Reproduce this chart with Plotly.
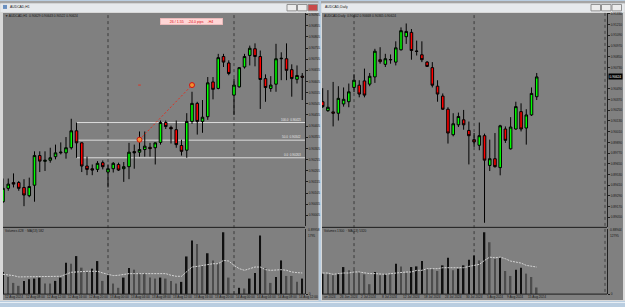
import plotly.graph_objects as go

W, H = 625, 307
def px(x): return x / W
def py(y): return 1 - y / H

CHART_BG = '#808080'
TXT = '#161616'
FONT = 'Liberation Sans'

# ---------------- AUDCAD H1 (left window) ----------------
h1_open = [0.90066, 0.90126, 0.90152, 0.90152, 0.90130, 0.90093, 0.90140, 0.90273, 0.90247, 0.90252,
           0.90268, 0.90285, 0.90285, 0.90308, 0.90384, 0.90330, 0.90226, 0.90214, 0.90211, 0.90241,
           0.90199, 0.90214, 0.90233, 0.90214, 0.90223, 0.90291, 0.90288, 0.90300, 0.90310, 0.90308,
           0.90332, 0.90421, 0.90399, 0.90389, 0.90318, 0.90297, 0.90426, 0.90507, 0.90426, 0.90447,
           0.90603, 0.90574, 0.90717, 0.90688, 0.90544, 0.90581, 0.90670, 0.90722, 0.90752, 0.90717,
           0.90618, 0.90574, 0.90593, 0.90707, 0.90707, 0.90658, 0.90615, 0.90629]
h1_high = [0.90170, 0.90170, 0.90193, 0.90159, 0.90167, 0.90174, 0.90292, 0.90292, 0.90292, 0.90308,
           0.90322, 0.90332, 0.90356, 0.90438, 0.90421, 0.90332, 0.90268, 0.90233, 0.90248, 0.90251,
           0.90233, 0.90244, 0.90241, 0.90244, 0.90330, 0.90322, 0.90381, 0.90381, 0.90330, 0.90332,
           0.90430, 0.90430, 0.90407, 0.90430, 0.90344, 0.90463, 0.90559, 0.90514, 0.90522, 0.90625,
           0.90625, 0.90729, 0.90729, 0.90700, 0.90618, 0.90670, 0.90729, 0.90766, 0.90776, 0.90744,
           0.90637, 0.90629, 0.90774, 0.90736, 0.90776, 0.90682, 0.90677, 0.90643]
h1_low = [0.90060, 0.90115, 0.90130, 0.90115, 0.90046, 0.90086, 0.90066, 0.90199, 0.90204, 0.90241,
          0.90256, 0.90278, 0.90259, 0.90300, 0.90263, 0.90199, 0.90185, 0.90185, 0.90199, 0.90211,
          0.90130, 0.90197, 0.90204, 0.90155, 0.90167, 0.90214, 0.90268, 0.90268, 0.90268, 0.90233,
          0.90322, 0.90392, 0.90327, 0.90308, 0.90273, 0.90263, 0.90415, 0.90367, 0.90375, 0.90433,
          0.90525, 0.90570, 0.90670, 0.90633, 0.90455, 0.90578, 0.90663, 0.90677, 0.90673, 0.90482,
          0.90514, 0.90559, 0.90559, 0.90611, 0.90611, 0.90537, 0.90596, 0.90522]
h1_close = [0.90126, 0.90145, 0.90145, 0.90126, 0.90096, 0.90134, 0.90273, 0.90248, 0.90252, 0.90263,
            0.90285, 0.90288, 0.90308, 0.90384, 0.90330, 0.90226, 0.90211, 0.90208, 0.90238, 0.90223,
            0.90214, 0.90238, 0.90208, 0.90223, 0.90288, 0.90285, 0.90300, 0.90315, 0.90304, 0.90330,
            0.90421, 0.90403, 0.90393, 0.90322, 0.90292, 0.90426, 0.90507, 0.90426, 0.90445, 0.90599,
            0.90570, 0.90712, 0.90692, 0.90641, 0.90589, 0.90667, 0.90717, 0.90754, 0.90717, 0.90614,
            0.90578, 0.90589, 0.90707, 0.90709, 0.90655, 0.90618, 0.90632, 0.90624]
h1_volume = [610, 473, 309, 228, 364, 410, 428, 455, 291, 291,
             364, 455, 865, 837, 1047, 728, 610, 701, 910, 364,
             519, 291, 173, 455, 719, 673, 582, 582, 455, 428,
             455, 428, 364, 291, 337, 1037, 1474, 1383, 792, 1128,
             928, 855, 1702, 455, 82, 173, 155, 428, 582, 1611,
             719, 309, 473, 928, 500, 500, 337, 428]
h1_vol_ma = [546, 537, 510, 473, 473, 473, 473, 473, 473, 473,
             473, 491, 546, 601, 610, 628, 628, 628, 628, 582,
             537, 510, 519, 546, 564, 564, 564, 564, 564, 564,
             564, 564, 519, 491, 491, 610, 746, 764, 792, 819,
             837, 837, 928, 910, 792, 701, 655, 701, 746, 746,
             673, 655, 673, 673, 655, 610, 592, 582]
h1_vol_max_label = 1795
h1_time_labels = ['12 Aug 2024', '12 Aug 08:00', '12 Aug 12:00', '12 Aug 16:00', '12 Aug 20:00',
                  '13 Aug 00:00', '13 Aug 04:00', '13 Aug 08:00', '13 Aug 12:00', '13 Aug 16:00',
                  '13 Aug 20:00', '14 Aug 00:00', '14 Aug 04:00', '14 Aug 08:00', '14 Aug 12:00']
h1_time_label_bars = [0, 4, 8, 12, 16, 20, 24, 28, 32, 36, 40, 44, 48, 52, 56]
h1_day_separators = [20, 44]
h1_price_ticks = [round(0.90905 - 0.0005 * k, 5) for k in range(19)]
h1_price_min, h1_price_max = 0.899581, 0.909127
fib_levels = [0.90421, 0.90342, 0.90263]
fib_names = ['100.0', '50.0', '0.0']
fib_start_bar = 14
trend_bars = [26, 36]
trend_prices = [0.90344, 0.90589]

# ---------------- AUDCAD Daily (right window) ----------------
d_open = [0.90346, 0.90246, 0.90232, 0.90217, 0.90321, 0.90346, 0.90506, 0.90531, 0.90579, 0.90543,
          0.90624, 0.90817, 0.90765, 0.90815, 0.90790, 0.90928, 0.91075, 0.91123, 0.90914, 0.90872,
          0.90790, 0.90728, 0.90520, 0.90409, 0.90262, 0.89976, 0.90087, 0.90143, 0.90024, 0.89921,
          0.89858, 0.89965, 0.89632, 0.89707, 0.89607, 0.90040, 0.89818, 0.90040, 0.90235, 0.90051,
          0.90198, 0.90402]
d_high = [0.90498, 0.90476, 0.90568, 0.90520, 0.90506, 0.90550, 0.90654, 0.90587, 0.90717, 0.90668,
          0.90939, 0.90957, 0.90883, 0.90876, 0.91023, 0.91179, 0.91223, 0.91161, 0.91031, 0.91023,
          0.90801, 0.90790, 0.90587, 0.90439, 0.90284, 0.90217, 0.90224, 0.90254, 0.90124, 0.89995,
          0.90113, 0.89988, 0.89921, 0.89995, 0.90087, 0.90069, 0.90173, 0.90346, 0.90328, 0.90262,
          0.90506, 0.90668]
d_low = [0.90276, 0.90232, 0.90069, 0.90135, 0.90291, 0.90284, 0.90454, 0.90395, 0.90395, 0.90520,
         0.90557, 0.90772, 0.90735, 0.90772, 0.90753, 0.90920, 0.90994, 0.90817, 0.90864, 0.90790,
         0.90735, 0.90506, 0.90346, 0.90254, 0.89877, 0.89958, 0.90062, 0.90032, 0.89643, 0.89840,
         0.89802, 0.88989, 0.89569, 0.89607, 0.89521, 0.89884, 0.89810, 0.90032, 0.90013, 0.89865,
         0.90187, 0.90365]
d_close = [0.90291, 0.90284, 0.90217, 0.90384, 0.90373, 0.90457, 0.90587, 0.90432, 0.90420, 0.90631,
           0.90912, 0.90795, 0.90828, 0.90819, 0.90950, 0.91142, 0.91134, 0.90920, 0.90910, 0.90817,
           0.90742, 0.90531, 0.90432, 0.90262, 0.89995, 0.90099, 0.90180, 0.90087, 0.89965, 0.89895,
           0.89965, 0.89691, 0.89707, 0.89618, 0.90076, 0.89913, 0.90062, 0.90291, 0.90040, 0.90198,
           0.90439, 0.90624]
d_volume = [4030, 3894, 3700, 4030, 5320, 4670, 4670, 4350, 3890, 1950,
            4350, 3700, 3890, 3890, 5970, 5450, 4150, 5320, 5450, 6490,
            5000, 5000, 4540, 5650, 7140, 4670, 5000, 5650, 6750, 7590,
            6620, 12140, 10190, 6950, 7270, 4540, 3570, 4800, 5190, 4030,
            3370, 1300]
d_vol_ma = [4150, 4150, 3894, 4030, 4150, 4150, 4350, 4350, 4150, 4030,
            4030, 3894, 3894, 4030, 4150, 4150, 4350, 4350, 4670, 4670,
            5000, 5000, 5000, 5190, 5190, 5190, 5190, 5190, 5450, 5650,
            5840, 6620, 7270, 7140, 7270, 6950, 6490, 6300, 6100, 5650,
            5450, 5320]
d_vol_max_label = 12795
d_time_labels = ['20 Jun 2024', '26 Jun 2024', '2 Jul 2024', '8 Jul 2024', '12 Jul 2024', '18 Jul 2024',
                 '24 Jul 2024', '30 Jul 2024', '5 Aug 2024', '9 Aug 2024', '15 Aug 2024']
d_time_label_bars = [-1, 3, 7, 11, 15, 19, 23, 27, 31, 35, 39]
d_month_separators = [6, 29]
d_price_ticks = [round(0.91330 - 0.0012 * k, 5) for k in range(20)]
d_price_min, d_price_max = 0.889442, 0.913418

# the current-price box hides the tick label that it covers
d_price_ticks = [v for v in d_price_ticks if abs(v - d_close[-1]) > 0.0006]

# ---------------- figure ----------------
fig = go.Figure()

def candles(o, h, l, c, xa, ya):
    return go.Candlestick(
        x=list(range(len(o))), open=o, high=h, low=l, close=c,
        increasing=dict(line=dict(color='#000000', width=1), fillcolor='#00ff00'),
        decreasing=dict(line=dict(color='#000000', width=1), fillcolor='#ff0000'),
        whiskerwidth=0, xaxis=xa, yaxis=ya, showlegend=False, hoverinfo='skip')

def vol_colors(v):
    return ['#101010' if (i == 0 or v[i] > v[i - 1]) else '#4c4c4c' for i in range(len(v))]

fig.add_trace(candles(h1_open, h1_high, h1_low, h1_close, 'x', 'y'))
fig.add_trace(go.Bar(x=list(range(len(h1_volume))), y=h1_volume, width=0.3,
                     marker=dict(color=vol_colors(h1_volume), line=dict(width=0)),
                     xaxis='x2', yaxis='y2', showlegend=False, hoverinfo='skip'))
fig.add_trace(go.Scatter(x=list(range(len(h1_vol_ma))), y=h1_vol_ma, mode='lines',
                         line=dict(color='#d4d4d4', width=1, dash='2px,1px'),
                         xaxis='x2', yaxis='y2', showlegend=False, hoverinfo='skip'))
# trend line with circle points
fig.add_trace(go.Scatter(x=trend_bars, y=trend_prices, mode='lines',
                         line=dict(color='#e03020', width=1, dash='2px,2px'),
                         xaxis='x', yaxis='y', showlegend=False, hoverinfo='skip'))
fig.add_trace(go.Scatter(x=trend_bars, y=trend_prices, mode='markers',
                         marker=dict(size=5, color='#f09030', line=dict(color='#d01010', width=1)),
                         xaxis='x', yaxis='y', showlegend=False, hoverinfo='skip'))
fig.add_trace(go.Scatter(x=[trend_bars[0] - 0.25, trend_bars[0] + 0.25], y=[trend_prices[1]] * 2,
                         mode='lines', line=dict(color='#e03020', width=1),
                         xaxis='x', yaxis='y', showlegend=False, hoverinfo='skip'))

fig.add_trace(candles(d_open, d_high, d_low, d_close, 'x3', 'y3'))
fig.add_trace(go.Bar(x=list(range(len(d_volume))), y=d_volume, width=0.3,
                     marker=dict(color=vol_colors(d_volume), line=dict(width=0)),
                     xaxis='x4', yaxis='y4', showlegend=False, hoverinfo='skip'))
fig.add_trace(go.Scatter(x=list(range(len(d_vol_ma))), y=d_vol_ma, mode='lines',
                         line=dict(color='#d4d4d4', width=1, dash='2px,1px'),
                         xaxis='x4', yaxis='y4', showlegend=False, hoverinfo='skip'))

tickfont = dict(size=3.2, color=TXT, family=FONT)
h1_xrange = [0, 302 / 5.25]
d_xrange = [(322 - 322.7) / 5.22, (607 - 322.7) / 5.22]

def xax(domain, rng, anchor):
    return dict(domain=domain, range=rng, anchor=anchor, showgrid=False, zeroline=False,
                showticklabels=False, ticks='', showline=False, fixedrange=True,
                rangeslider=dict(visible=False))

def yax(domain, rng, anchor, tv, tt):
    return dict(domain=domain, range=rng, anchor=anchor, side='right', showgrid=False,
                zeroline=False, tickvals=tv, ticktext=tt, tickfont=tickfont, ticks='outside',
                ticklen=2, tickwidth=1, tickcolor='#202020', showline=True,
                linecolor='#202020', linewidth=1, fixedrange=True)

fig.update_layout(
    width=W, height=H, margin=dict(l=0, r=0, t=0, b=0),
    paper_bgcolor='#b9cde0', plot_bgcolor=CHART_BG,
    showlegend=False, font=dict(family=FONT, color=TXT, size=4),
    xaxis=xax([px(3), px(305)], h1_xrange, 'y'),
    yaxis=yax([py(227), py(12)], [h1_price_min, h1_price_max], 'x',
              h1_price_ticks, ['%.5f' % v for v in h1_price_ticks]),
    xaxis2=xax([px(3), px(305)], h1_xrange, 'y2'),
    yaxis2=yax([py(296), py(230)], [0, 1800], 'x2', [0], ['0']),
    xaxis3=xax([px(322), px(607)], d_xrange, 'y3'),
    yaxis3=yax([py(228), py(12)], [d_price_min, d_price_max], 'x3',
               d_price_ticks, ['%.5f' % v for v in d_price_ticks]),
    xaxis4=xax([px(322), px(607)], d_xrange, 'y4'),
    yaxis4=yax([py(296), py(230)], [0, 12850], 'x4', [0], ['0']),
)

shapes = []
def rect(x0, y0, x1, y1, fill, line=None, layer='below'):
    shapes.append(dict(type='rect', xref='paper', yref='paper', x0=px(x0), x1=px(x1),
                       y0=py(y1), y1=py(y0), fillcolor=fill, layer=layer,
                       line=dict(width=1 if line else 0, color=line or fill)))
def hline(x0, x1, y, color, width=1, dash='solid', layer='above'):
    shapes.append(dict(type='line', xref='paper', yref='paper', x0=px(x0), x1=px(x1),
                       y0=py(y), y1=py(y), line=dict(color=color, width=width, dash=dash), layer=layer))
def vline(x, y0, y1, color, width=1, dash='solid', layer='above'):
    shapes.append(dict(type='line', xref='paper', yref='paper', x0=px(x), x1=px(x),
                       y0=py(y0), y1=py(y1), line=dict(color=color, width=width, dash=dash), layer=layer))

# windows
for (wx0, wx1) in [(0, 318.5), (321, 625)]:
    rect(wx0, 0, wx1, 303, '#d8d8d8')
    rect(wx0, 0, wx1, 2.5, '#a4a4a4')
    rect(wx0 + 0.5, 2.5, wx1 - 0.5, 11, '#e6e9ec')
rect(3, 12, 318.5, 302, CHART_BG)
rect(322, 12, 623, 302, CHART_BG)
hline(0, 625, 304.5, '#e8eef4', width=1)

# title bar buttons
for bx, col in [(287, '#ececec'), (297.5, '#ececec'), (308, '#c84a4a'),
                (591, '#ececec'), (601.5, '#ececec'), (612, '#ececec')]:
    rect(bx, 3.5, bx + 9.5, 10, col, line='#909090', layer='above')
rect(3, 4, 7, 8, '#6a90c0', layer='above')

# pane borders / separators
for (x0, x1) in [(3, 305), (322, 607)]:
    hline(x0, x1, 228.6, '#1c1c1c', width=1)
    hline(x0, x1, 296, '#1c1c1c', width=1)
vline(605, 12, 296, '#404040', dash='dot')

# period separators (dotted verticals)
for b in h1_day_separators:
    shapes.append(dict(type='line', xref='x', yref='paper', x0=b, x1=b, y0=py(296), y1=py(12),
                       line=dict(color='#3a3a3a', width=1, dash='dot'), layer='below'))
for b in d_month_separators:
    shapes.append(dict(type='line', xref='x3', yref='paper', x0=b, x1=b, y0=py(296), y1=py(12),
                       line=dict(color='#3a3a3a', width=1, dash='dot'), layer='below'))

# fibonacci levels
for lv in fib_levels:
    shapes.append(dict(type='line', xref='x', yref='y', x0=fib_start_bar, x1=h1_xrange[1],
                       y0=lv, y1=lv, line=dict(color='#dcdcdc', width=1), layer='below'))

fig.update_layout(shapes=shapes)

ann = []
def text(x, y, s, size=3.2, color=TXT, xanchor='left', yanchor='middle', **kw):
    ann.append(dict(x=px(x), y=py(y), xref='paper', yref='paper', text=s, showarrow=False,
                    xanchor=xanchor, yanchor=yanchor, font=dict(size=size, color=color, family=FONT),
                    borderpad=0, **kw))

text(9, 6.5, 'AUDCAD,H1', size=3.4)
text(324, 6.5, 'AUDCAD,Daily', size=3.4)
text(4, 14.8, '▼ AUDCAD,H1  %.5f %.5f %.5f %.5f' % (h1_open[-1], h1_high[-1], h1_low[-1], h1_close[-1]))
text(323, 14.8, 'AUDCAD,Daily  %.5f %.5f %.5f %.5f' % (d_open[-1], d_high[-1], d_low[-1], d_close[-1]))
text(4, 232.5, 'Volumes %d  · MA(13) %d' % (h1_volume[-1], h1_vol_ma[-1]))
text(323, 232.5, 'Volumes %d  · MA(13) %d' % (d_volume[-1], d_vol_ma[-1]))
ann.append(dict(x=px(160), y=py(17), xref='paper', yref='paper', xanchor='left', yanchor='top',
                text='26 / 1.55    -24.0 pips    -H4', showarrow=False, width=61, height=5,
                align='center', bgcolor='#ffd6d6', bordercolor='#f4b4b4', borderwidth=0.5,
                borderpad=0.5, font=dict(size=3.6, color='#e01010', family=FONT)))

# bottom price labels of main panes and volume max labels
text(306.5, 231.5, '%.5f' % h1_price_min)
text(306.5, 237, str(h1_vol_max_label))
text(608.5, 231.5, '%.5f' % d_price_min)
text(608.5, 237, str(d_vol_max_label))

# fib labels
for lv, nm in zip(fib_levels, fib_names):
    ann.append(dict(x=px(302), y=lv, xref='paper', yref='y', text='%s  %.5f' % (nm, lv),
                    showarrow=False, xanchor='right', yanchor='bottom',
                    font=dict(size=3, color='#e8e8e8', family=FONT), borderpad=0))

# current price label (daily)
ann.append(dict(x=px(607.5), y=d_close[-1], xref='paper', yref='y3', text='%.5f' % d_close[-1],
                showarrow=False, xanchor='left', yanchor='middle', bgcolor='#000000',
                font=dict(size=3.2, color='#ffffff', family=FONT), borderpad=0.6))

# time labels
for b, s in zip(h1_time_label_bars, h1_time_labels):
    ann.append(dict(x=b, y=py(299.3), xref='x2', yref='paper', text=s, showarrow=False,
                    xanchor='left', yanchor='middle', font=dict(size=3.2, color=TXT, family=FONT)))
for b, s in zip(d_time_label_bars, d_time_labels):
    if b < 0:
        text(322.5, 299.3, s.split(' ', 1)[1][1:], size=3.2)
        continue
    ann.append(dict(x=b, y=py(299.3), xref='x4', yref='paper', text=s, showarrow=False,
                    xanchor='left', yanchor='middle', font=dict(size=3.2, color=TXT, family=FONT)))

fig.update_layout(annotations=ann)
fig.write_html('out.html')
